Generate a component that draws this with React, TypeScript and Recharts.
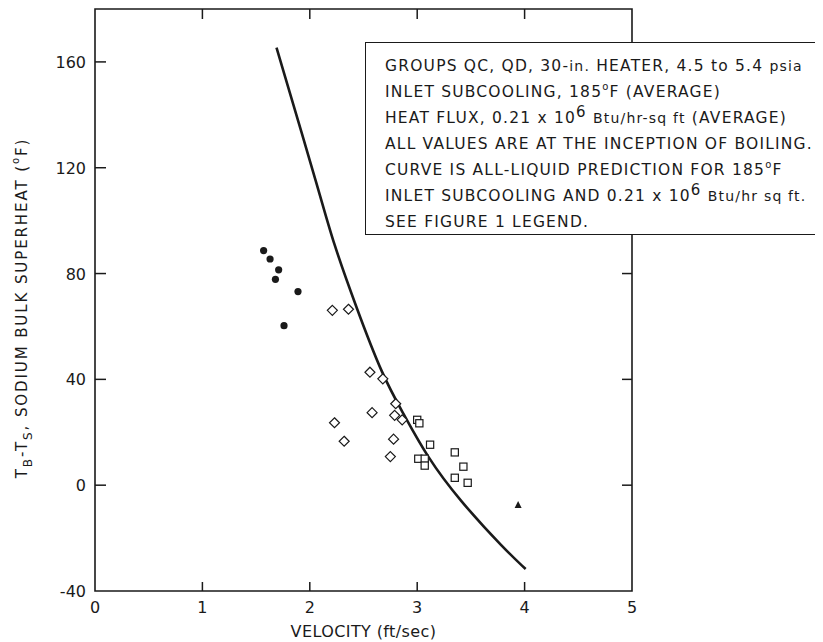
import { ComposedChart, XAxis, YAxis, Scatter, Line, ReferenceArea, Label } from "recharts";

const xTicks = [0, 1, 2, 3, 4, 5];
const yTicks = [-40, 0, 40, 80, 120, 160];

// velocity (ft/sec) and superheat (F) per symbol group
const dotV = [1.57, 1.63, 1.71, 1.68, 1.89, 1.76];
const dotT = [88.7, 85.5, 81.4, 77.8, 73.2, 60.3];
const diamondV = [2.21, 2.36, 2.56, 2.68, 2.8, 2.58, 2.79, 2.86, 2.23, 2.78, 2.32, 2.75];
const diamondT = [66.1, 66.5, 42.7, 40.2, 30.8, 27.4, 26.4, 24.7, 23.6, 17.4, 16.6, 10.8];
const squareV = [3.0, 3.02, 3.12, 3.35, 3.01, 3.07, 3.07, 3.43, 3.35, 3.47];
const squareT = [24.7, 23.4, 15.3, 12.4, 10.0, 10.0, 7.4, 7.0, 2.8, 0.9];
const triangleV = [3.94];
const triangleT = [-7.5];
// all-liquid prediction curve
const curveV = [1.69, 2.11, 2.21, 2.43, 2.68, 2.87, 3.09, 3.39, 3.82, 4.01];
const curveT = [165.4, 107.8, 92.7, 67.5, 41, 27.2, 10.8, -5.6, -24.5, -31.7];

const zip = (v: number[], t: number[]) => v.map((x, i) => ({ v: x, t: t[i] }));

const FONT = "'DejaVu Sans', sans-serif";
const INK = "#1a1a1a";
const W = 815;
const H = 634;
const M = { top: 1, right: 191, bottom: 11, left: 27 };
const Y_W = 60;
const X_H = 40;
const PLOT_W = W - M.left - M.right - Y_W;
const PLOT_H = H - M.top - M.bottom - X_H;

function XTick(props: any) {
  const { x, y, payload } = props;
  const inner = payload.value > 0 && payload.value < 5;
  return (
    <g>
      {inner && <line x1={x} x2={x} y1={y} y2={y - 9} stroke={INK} strokeWidth={1.5} />}
      {inner && <line x1={x} x2={x} y1={y - PLOT_H} y2={y - PLOT_H + 10} stroke={INK} strokeWidth={1.5} />}
      <text x={x} y={y + 22} textAnchor="middle" fontSize={16} fontFamily={FONT} fill={INK}>
        {payload.value}
      </text>
    </g>
  );
}

function YTick(props: any) {
  const { x, y, payload } = props;
  const inner = payload.value > -40 && payload.value < 180;
  return (
    <g>
      {inner && <line x1={x} x2={x + 11} y1={y} y2={y} stroke={INK} strokeWidth={1.5} />}
      {inner && <line x1={x + PLOT_W} x2={x + PLOT_W - 10} y1={y} y2={y} stroke={INK} strokeWidth={1.5} />}
      <text x={x - 9} y={y + 6} textAnchor="end" fontSize={16} fontFamily={FONT} fill={INK}>
        {payload.value}
      </text>
    </g>
  );
}

function XTitle(props: any) {
  const vb = props.viewBox;
  return (
    <text
      x={vb.x + vb.width / 2}
      y={vb.y + 46}
      textAnchor="middle"
      fontSize={16}
      letterSpacing={0.4}
      fontFamily={FONT}
      fill={INK}
    >
      VELOCITY (ft/sec)
    </text>
  );
}

function YTitle(props: any) {
  const vb = props.viewBox;
  const cx = 14;
  const cy = vb.y + vb.height / 2 + 8;
  return (
    <text
      x={cx}
      y={cy}
      transform={`rotate(-90 ${cx} ${cy})`}
      textAnchor="middle"
      dominantBaseline="middle"
      fontSize={15}
      letterSpacing={1.9}
      fontFamily={FONT}
      fill={INK}
    >
      T<tspan dy={6} fontSize={12}>B</tspan>
      <tspan dy={-6}>-T</tspan>
      <tspan dy={6} fontSize={12}>S</tspan>
      <tspan dy={-6}>, SODIUM BULK SUPERHEAT (</tspan>
      <tspan dy={-6} fontSize={10}>o</tspan>
      <tspan dy={6}>F)</tspan>
    </text>
  );
}

const dotShape = (p: any) => <circle cx={p.cx} cy={p.cy} r={3.6} fill={INK} />;
const diamondShape = (p: any) => (
  <path
    d={`M${p.cx},${p.cy - 5}L${p.cx + 5},${p.cy}L${p.cx},${p.cy + 5}L${p.cx - 5},${p.cy}Z`}
    fill="#fff"
    stroke={INK}
    strokeWidth={1.2}
  />
);
const squareShape = (p: any) => (
  <rect x={p.cx - 3.6} y={p.cy - 3.6} width={7.2} height={7.2} fill="#fff" stroke={INK} strokeWidth={1.2} />
);
const triangleShape = (p: any) => (
  <path d={`M${p.cx},${p.cy - 4}L${p.cx + 3.5},${p.cy + 3}L${p.cx - 3.5},${p.cy + 3}Z`} fill={INK} />
);

const Sup = ({ children, size = 10, lift = 7 }: any) => (
  <span style={{ fontSize: size, position: "relative", top: -lift }}>{children}</span>
);
const Small = ({ children }: any) => <span style={{ fontSize: 14 }}>{children}</span>;

const boxLines: React.ReactNode[] = [
  <>GROUPS QC, QD, 30-<Small>in.</Small> HEATER, 4.5 to 5.4 <Small>psia</Small></>,
  <>INLET SUBCOOLING, 185<Sup>o</Sup>F (AVERAGE)</>,
  <>HEAT FLUX, 0.21 x 10<Sup size={15} lift={6}>6</Sup> <Small>Btu/hr-sq ft</Small> (AVERAGE)</>,
  <>ALL VALUES ARE AT THE INCEPTION OF BOILING.</>,
  <>CURVE IS ALL-LIQUID PREDICTION FOR 185<Sup>o</Sup>F</>,
  <>INLET SUBCOOLING AND 0.21 x 10<Sup size={15} lift={6}>6</Sup> <Small>Btu/hr sq ft.</Small></>,
  <>SEE FIGURE 1 LEGEND.</>,
];

export default function App() {
  return (
    <div style={{ position: "relative", width: W, height: H, background: "#fff" }}>
      <ComposedChart width={W} height={H} margin={M}>
        <XAxis
          dataKey="v"
          type="number"
          domain={[0, 5]}
          ticks={xTicks}
          interval={0}
          height={X_H}
          tickSize={0}
          tickMargin={0}
          axisLine={false}
          tick={<XTick />}
        >
          <Label content={<XTitle />} />
        </XAxis>
        <YAxis
          dataKey="t"
          type="number"
          domain={[-40, 180]}
          ticks={yTicks}
          interval={0}
          width={Y_W}
          tickSize={0}
          tickMargin={0}
          axisLine={false}
          tick={<YTick />}
        >
          <Label content={<YTitle />} />
        </YAxis>
        <ReferenceArea x1={0} x2={5} y1={-40} y2={180} fill="none" stroke={INK} strokeWidth={1.6} />
        <Line
          data={zip(curveV, curveT)}
          dataKey="t"
          type="basis"
          stroke={INK}
          strokeWidth={2.6}
          dot={false}
          activeDot={false}
          isAnimationActive={false}
        />
        <Scatter data={zip(dotV, dotT)} dataKey="t" shape={dotShape} isAnimationActive={false} />
        <Scatter data={zip(diamondV, diamondT)} dataKey="t" shape={diamondShape} isAnimationActive={false} />
        <Scatter data={zip(squareV, squareT)} dataKey="t" shape={squareShape} isAnimationActive={false} />
        <Scatter data={zip(triangleV, triangleT)} dataKey="t" shape={triangleShape} isAnimationActive={false} />
      </ComposedChart>
      <div
        style={{
          position: "absolute",
          left: 357,
          top: 34,
          width: 455,
          height: 193,
          boxSizing: "border-box",
          border: `1.6px solid ${INK}`,
          background: "#fff",
          padding: "10px 0 0 19px",
          fontFamily: FONT,
          fontSize: 15.5,
          letterSpacing: 1.2,
          color: INK,
          lineHeight: "26px",
          whiteSpace: "nowrap",
        }}
      >
        {boxLines.map((l, i) => (
          <div key={i} style={{ height: 26 }}>
            {l}
          </div>
        ))}
      </div>
    </div>
  );
}
